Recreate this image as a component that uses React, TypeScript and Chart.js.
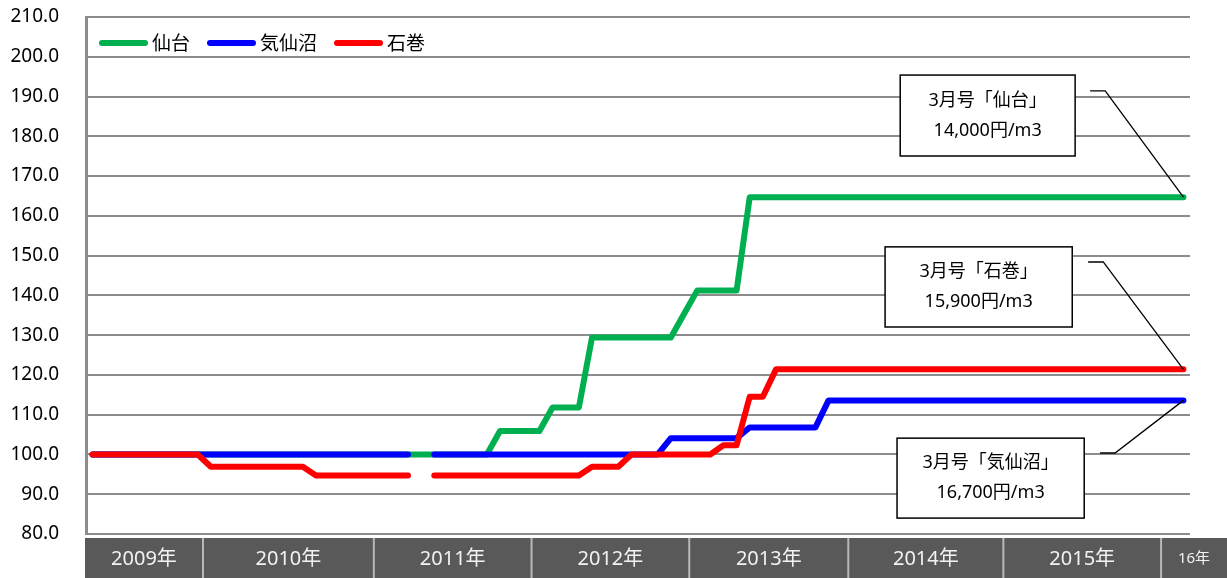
import React, { useEffect, useRef } from 'react';
import { Chart, registerables } from 'chart.js';

Chart.register(...registerables);

// Monthly categories (Apr 2009 – Mar 2016)
const months = [
  '2009/04', '2009/05', '2009/06', '2009/07', '2009/08', '2009/09', '2009/10', '2009/11', '2009/12',
  '2010/01', '2010/02', '2010/03', '2010/04', '2010/05', '2010/06', '2010/07', '2010/08', '2010/09', '2010/10', '2010/11', '2010/12',
  '2011/01', '2011/02', '2011/03', '2011/04', '2011/05', '2011/06', '2011/07', '2011/08', '2011/09', '2011/10', '2011/11', '2011/12',
  '2012/01', '2012/02', '2012/03', '2012/04', '2012/05', '2012/06', '2012/07', '2012/08', '2012/09', '2012/10', '2012/11', '2012/12',
  '2013/01', '2013/02', '2013/03', '2013/04', '2013/05', '2013/06', '2013/07', '2013/08', '2013/09', '2013/10', '2013/11', '2013/12',
  '2014/01', '2014/02', '2014/03', '2014/04', '2014/05', '2014/06', '2014/07', '2014/08', '2014/09', '2014/10', '2014/11', '2014/12',
  '2015/01', '2015/02', '2015/03', '2015/04', '2015/05', '2015/06', '2015/07', '2015/08', '2015/09', '2015/10', '2015/11', '2015/12',
  '2016/01', '2016/02', '2016/03',
];

const sendai = [
  100, 100, 100, 100, 100, 100, 100, 100, 100,
  100, 100, 100, 100, 100, 100, 100, 100, 100, 100, 100, 100,
  100, 100, 100, 100, 100, 100, 100, 100, 100, 100, 105.9, 105.9,
  105.9, 105.9, 111.8, 111.8, 111.8, 129.4, 129.4, 129.4, 129.4, 129.4, 129.4, 129.4,
  135.3, 141.2, 141.2, 141.2, 141.2, 164.7, 164.7, 164.7, 164.7, 164.7, 164.7, 164.7,
  164.7, 164.7, 164.7, 164.7, 164.7, 164.7, 164.7, 164.7, 164.7, 164.7, 164.7, 164.7,
  164.7, 164.7, 164.7, 164.7, 164.7, 164.7, 164.7, 164.7, 164.7, 164.7, 164.7, 164.7,
  164.7, 164.7, 164.7,
];

const kesennuma = [
  100, 100, 100, 100, 100, 100, 100, 100, 100,
  100, 100, 100, 100, 100, 100, 100, 100, 100, 100, 100, 100,
  100, 100, 100, 100, null, 100, 100, 100, 100, 100, 100, 100,
  100, 100, 100, 100, 100, 100, 100, 100, 100, 100, 100, 104.1,
  104.1, 104.1, 104.1, 104.1, 104.1, 106.8, 106.8, 106.8, 106.8, 106.8, 106.8, 113.6,
  113.6, 113.6, 113.6, 113.6, 113.6, 113.6, 113.6, 113.6, 113.6, 113.6, 113.6, 113.6,
  113.6, 113.6, 113.6, 113.6, 113.6, 113.6, 113.6, 113.6, 113.6, 113.6, 113.6, 113.6,
  113.6, 113.6, 113.6,
];

const ishinomaki = [
  100, 100, 100, 100, 100, 100, 100, 100, 100,
  96.9, 96.9, 96.9, 96.9, 96.9, 96.9, 96.9, 96.9, 94.7, 94.7, 94.7, 94.7,
  94.7, 94.7, 94.7, 94.7, null, 94.7, 94.7, 94.7, 94.7, 94.7, 94.7, 94.7,
  94.7, 94.7, 94.7, 94.7, 94.7, 96.9, 96.9, 96.9, 100, 100, 100, 100,
  100, 100, 100, 102.3, 102.3, 114.5, 114.5, 121.4, 121.4, 121.4, 121.4, 121.4,
  121.4, 121.4, 121.4, 121.4, 121.4, 121.4, 121.4, 121.4, 121.4, 121.4, 121.4, 121.4,
  121.4, 121.4, 121.4, 121.4, 121.4, 121.4, 121.4, 121.4, 121.4, 121.4, 121.4, 121.4,
  121.4, 121.4, 121.4,
];

const seriesNames = ['仙台', '気仙沼', '石巻'];
const seriesColors = ['#00b050', '#0000ff', '#ff0000'];

const yMin = 80;
const yMax = 210;
const yStep = 10;

// Year band below the plot: label and the category edge where each cell starts
const yearLabels = ['2009年', '2010年', '2011年', '2012年', '2013年', '2014年', '2015年', '16年'];
const yearEdges = [0, 8.9, 21.9, 33.9, 45.9, 58, 69.8, 81.8];

// Callout boxes (category index / value units)
const notes = [
  { lines: ['3月号「仙台」', '14,000円/m3'], series: 0, x1: 61.45, x2: 74.76, yTop: 195.4, yBot: 175.05, lx1: 75.9, lx2: 77.05, ly: 191.4 },
  { lines: ['3月号「石巻」', '15,900円/m3'], series: 2, x1: 60.3, x2: 74.54, yTop: 152.2, yBot: 132.05, lx1: 75.75, lx2: 76.9, ly: 148.4 },
  { lines: ['3月号「気仙沼」', '16,700円/m3'], series: 1, x1: 61.21, x2: 75.45, yTop: 104.1, yBot: 84.0, lx1: 76.66, lx2: 77.8, ly: 100.37 },
];

const FONT = "'Noto Sans', 'Noto Sans CJK JP', sans-serif";
const CJK_FONT = "'Noto Sans CJK JP', 'Noto Sans', sans-serif";

const yearBandPlugin = {
  id: 'yearBand',
  afterDraw(chart: any) {
    const { ctx, chartArea, scales } = chart;
    const xs = scales.x;
    const top = chartArea.bottom + 4;
    const bottom = chart.height;
    const left = chartArea.left - 1;
    const right = chart.width;
    ctx.save();
    ctx.fillStyle = '#595959';
    ctx.fillRect(left, top, right - left, bottom - top);
    const edgesPx = yearEdges.map((e, i) => (i === 0 ? left : xs.getPixelForValue(e - 0.5)));
    edgesPx.push(right);
    ctx.strokeStyle = '#b8b8b8';
    ctx.lineWidth = 2;
    for (let i = 1; i < edgesPx.length - 1; i++) {
      ctx.beginPath();
      ctx.moveTo(edgesPx[i], top);
      ctx.lineTo(edgesPx[i], bottom);
      ctx.stroke();
    }
    ctx.fillStyle = '#f2f2f2';
    ctx.textAlign = 'center';
    ctx.textBaseline = 'middle';
    yearLabels.forEach((lab, i) => {
      const cx = (edgesPx[i] + edgesPx[i + 1]) / 2;
      const small = i === yearLabels.length - 1;
      ctx.font = `${small ? 15 : 20}px ${FONT}`;
      ctx.fillText(lab, cx, (top + bottom) / 2 + 1);
    });
    ctx.restore();
  },
};

// Legend drawn inside the plot area, top-left, in one row
const legendPlugin = {
  id: 'inlineLegend',
  afterDatasetsDraw(chart: any) {
    const { ctx, chartArea } = chart;
    let x = chartArea.left + 16;
    const y = chartArea.top + 26;
    ctx.save();
    ctx.font = `19px ${CJK_FONT}`;
    ctx.textAlign = 'left';
    ctx.textBaseline = 'middle';
    chart.data.datasets.forEach((ds: any) => {
      ctx.strokeStyle = ds.borderColor;
      ctx.lineWidth = 6;
      ctx.lineCap = 'round';
      ctx.beginPath();
      ctx.moveTo(x, y);
      ctx.lineTo(x + 43, y);
      ctx.stroke();
      x += 50;
      ctx.fillStyle = '#000';
      ctx.fillText(ds.label, x, y);
      x += ctx.measureText(ds.label).width + 20;
    });
    ctx.restore();
  },
};

const notesPlugin = {
  id: 'notes',
  afterDatasetsDraw(chart: any) {
    const { ctx, scales } = chart;
    const xs = scales.x;
    const ys = scales.y;
    ctx.save();
    notes.forEach((n) => {
      const meta = chart.getDatasetMeta(n.series);
      const last = meta.data[meta.data.length - 1];
      const lx1 = xs.getPixelForValue(n.lx1);
      const lx2 = xs.getPixelForValue(n.lx2);
      const ly = ys.getPixelForValue(n.ly);
      ctx.strokeStyle = '#000';
      ctx.lineWidth = 1.3;
      ctx.beginPath();
      ctx.moveTo(lx1, ly);
      ctx.lineTo(lx2, ly);
      ctx.lineTo(last.x, last.y);
      ctx.stroke();

      const x1 = xs.getPixelForValue(n.x1);
      const x2 = xs.getPixelForValue(n.x2);
      const y1 = ys.getPixelForValue(n.yTop);
      const y2 = ys.getPixelForValue(n.yBot);
      ctx.fillStyle = '#fff';
      ctx.fillRect(x1, y1, x2 - x1, y2 - y1);
      ctx.lineWidth = 1.5;
      ctx.strokeRect(x1, y1, x2 - x1, y2 - y1);
      ctx.fillStyle = '#000';
      ctx.textAlign = 'center';
      ctx.textBaseline = 'middle';
      ctx.font = `18px ${FONT}`;
      const cx = (x1 + x2) / 2;
      const cy = (y1 + y2) / 2;
      ctx.fillText(n.lines[0], cx, cy - 15);
      ctx.fillText(n.lines[1], cx, cy + 15);
    });
    ctx.restore();
  },
};

export default function App() {
  const canvasRef = useRef<HTMLCanvasElement | null>(null);

  useEffect(() => {
    const canvas = canvasRef.current;
    if (!canvas) return;
    const values = [sendai, kesennuma, ishinomaki];
    const chart = new Chart(canvas, {
      type: 'line',
      data: {
        labels: months,
        datasets: values.map((v, i) => ({
          label: seriesNames[i],
          data: v,
          borderColor: seriesColors[i],
          backgroundColor: seriesColors[i],
          borderWidth: 6,
          borderCapStyle: 'round',
          borderJoinStyle: 'round',
          pointRadius: 0,
          pointHoverRadius: 0,
          tension: 0,
          spanGaps: false,
          fill: false,
          order: 2 - i,
        })),
      },
      options: {
        responsive: false,
        animation: false,
        events: [],
        layout: { padding: { left: 0, right: 37, top: 17, bottom: 44 } },
        scales: {
          x: {
            type: 'category',
            offset: true,
            display: false,
            grid: { display: false },
          },
          y: {
            min: yMin,
            max: yMax,
            afterFit: (scale: any) => {
              scale.width = 86;
              scale.paddingTop = 0;
              scale.paddingBottom = 0;
            },
            ticks: {
              stepSize: yStep,
              padding: 27,
              color: '#000',
              font: { family: FONT, size: 19 },
              callback: (v: any) => Number(v).toFixed(1),
            },
            grid: {
              color: '#8c8c8c',
              lineWidth: 2,
              drawTicks: false,
            },
            border: { display: true, color: '#8c8c8c', width: 3 },
          },
        },
        plugins: {
          tooltip: { enabled: false },
          legend: { display: false },
        },
      } as any,
      plugins: [yearBandPlugin, legendPlugin, notesPlugin],
    });
    return () => chart.destroy();
  }, []);

  return (
    <div style={{ position: 'absolute', left: 0, top: 0, width: 1227, height: 578, background: '#fff' }}>
      <canvas ref={canvasRef} width={1227} height={578} />
    </div>
  );
}
